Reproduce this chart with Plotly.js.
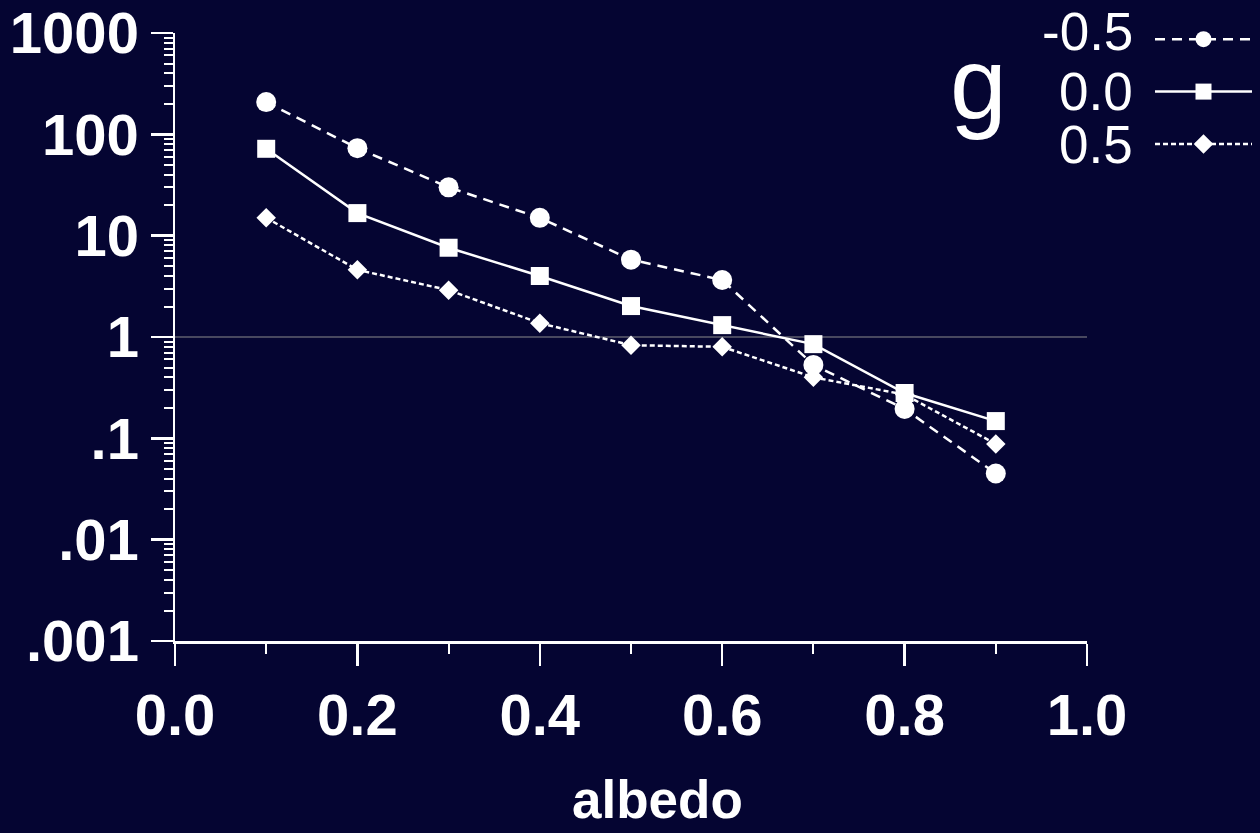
<!DOCTYPE html>
<html>
<head>
<meta charset="utf-8">
<script src="https://cdn.plot.ly/plotly-3.0.1.min.js"></script>
<style>
  html, body { margin: 0; padding: 0; background: #050532; }
  #chart { width: 1260px; height: 833px; }
</style>
</head>
<body>
<div id="chart"></div>
<script>
// ---- data ----
const albedo = [0.1, 0.2, 0.3, 0.4, 0.5, 0.6, 0.7, 0.8, 0.9];
const gLabels = ['-0.5', '0.0', '0.5'];
const gNeg05 = [208, 73, 30, 15, 5.8, 3.65, 0.53, 0.195, 0.045];
const g00    = [72, 16.7, 7.6, 4.0, 2.02, 1.31, 0.85, 0.28, 0.148];
const gPos05 = [15, 4.6, 2.9, 1.37, 0.83, 0.80, 0.40, 0.27, 0.088];
const yTickVals = [0.001, 0.01, 0.1, 1, 10, 100, 1000];
const yTickText = ['.001', '.01', '.1', '1', '10', '100', '1000'];
const xTickVals = [0, 0.2, 0.4, 0.6, 0.8, 1.0];
const xTickText = ['0.0', '0.2', '0.4', '0.6', '0.8', '1.0'];
const xTitle = 'albedo';
const legendTitle = 'g';

// ---- styling ----
const BG = '#050532';
const FG = '#ffffff';
const TICKFONT = { family: 'Liberation Sans, Arial, sans-serif', size: 58, color: FG, weight: 'bold' };

// minor tick positions for the log axis (2..9 in every decade)
const yMinor = [];
for (let e = -3; e < 3; e++) {
  for (let m = 2; m <= 9; m++) yMinor.push(m * Math.pow(10, e));
}

const series = [
  { y: gNeg05, label: gLabels[0], symbol: 'circle', size: 20, dash: '10px,7px' },
  { y: g00,    label: gLabels[1], symbol: 'square', size: 18, dash: 'solid' },
  { y: gPos05, label: gLabels[2], symbol: 'diamond', size: 15, dash: '5px,3px' }
];

// legend entries show only the line+marker samples; their labels are drawn
// as annotations to the left of the samples, as in the reference
const traces = series.map(s => ({
  type: 'scatter',
  mode: 'lines+markers',
  x: albedo,
  y: s.y,
  name: ' ',
  hovertemplate: 'g = ' + s.label + '<br>albedo %{x}<br>%{y}<extra></extra>',
  line: { color: FG, width: 2.5, dash: s.dash },
  marker: { symbol: s.symbol, size: s.size, color: FG, line: { width: 0 } },
  cliponaxis: false
}));

// plot area in pixels: x 175..1087, y 33..641
const L = 175, R = 1087, T = 33, B = 641;
const px = v => (v - L) / (R - L);
const py = v => (B - v) / (B - T);

const legendRows = [32, 91, 144];
const annotations = gLabels.map((t, i) => ({
  xref: 'paper', yref: 'paper',
  x: px(1135), y: py(legendRows[i]),
  xanchor: 'right', yanchor: 'middle',
  text: t, showarrow: false,
  font: { family: 'Liberation Sans, Arial, sans-serif', size: 53, color: FG }
}));
annotations.push({
  xref: 'paper', yref: 'paper',
  x: px(978), y: py(84),
  xanchor: 'center', yanchor: 'middle',
  text: legendTitle, showarrow: false,
  font: { family: 'Liberation Sans, Arial, sans-serif', size: 102, color: FG }
});
annotations.push({
  xref: 'paper', yref: 'paper',
  x: px(657), y: py(800),
  xanchor: 'center', yanchor: 'middle',
  text: xTitle, showarrow: false,
  font: { family: 'Liberation Sans, Arial, sans-serif', size: 53, color: FG, weight: 'bold' }
});

const layout = {
  width: 1260, height: 833,
  paper_bgcolor: BG, plot_bgcolor: BG,
  margin: { l: L, r: 1260 - R, t: T, b: 833 - B, autoexpand: false },
  showlegend: true,
  legend: {
    x: px(1150), y: py(8), xanchor: 'left', yanchor: 'top',
    bgcolor: 'rgba(0,0,0,0)', borderwidth: 0,
    itemwidth: 97, itemsizing: 'trace',
    font: { size: 38, color: 'rgba(0,0,0,0)' },
    itemclick: false, itemdoubleclick: false
  },
  xaxis: {
    type: 'linear', range: [0, 1],
    showline: true, linecolor: FG, linewidth: 2.5,
    showgrid: false, zeroline: false,
    tickmode: 'array', tickvals: xTickVals, ticktext: xTickText,
    ticks: 'outside', ticklen: 22, tickwidth: 2.5, tickcolor: FG,
    tickfont: TICKFONT,
    minor: { ticks: 'outside', ticklen: 10, tickwidth: 2, tickcolor: FG, dtick: 0.1, tick0: 0, showgrid: false }
  },
  yaxis: {
    type: 'log', range: [-3, 3],
    showline: true, linecolor: FG, linewidth: 2.5,
    showgrid: false, zeroline: false,
    tickmode: 'array', tickvals: yTickVals, ticktext: yTickText,
    ticks: 'outside', ticklen: 22, tickwidth: 2.5, tickcolor: FG,
    tickfont: TICKFONT,
    minor: { ticks: 'outside', ticklen: 9, tickwidth: 2, tickcolor: FG, tickmode: 'array', tickvals: yMinor, showgrid: false }
  },
  shapes: [{
    type: 'line', xref: 'paper', x0: 0, x1: 1, yref: 'y', y0: 1, y1: 1,
    line: { color: '#8c8c8c', width: 1.2 }, layer: 'below'
  }],
  annotations: annotations
};

Plotly.newPlot('chart', traces, layout, { staticPlot: true, displayModeBar: false });
</script>
</body>
</html>
